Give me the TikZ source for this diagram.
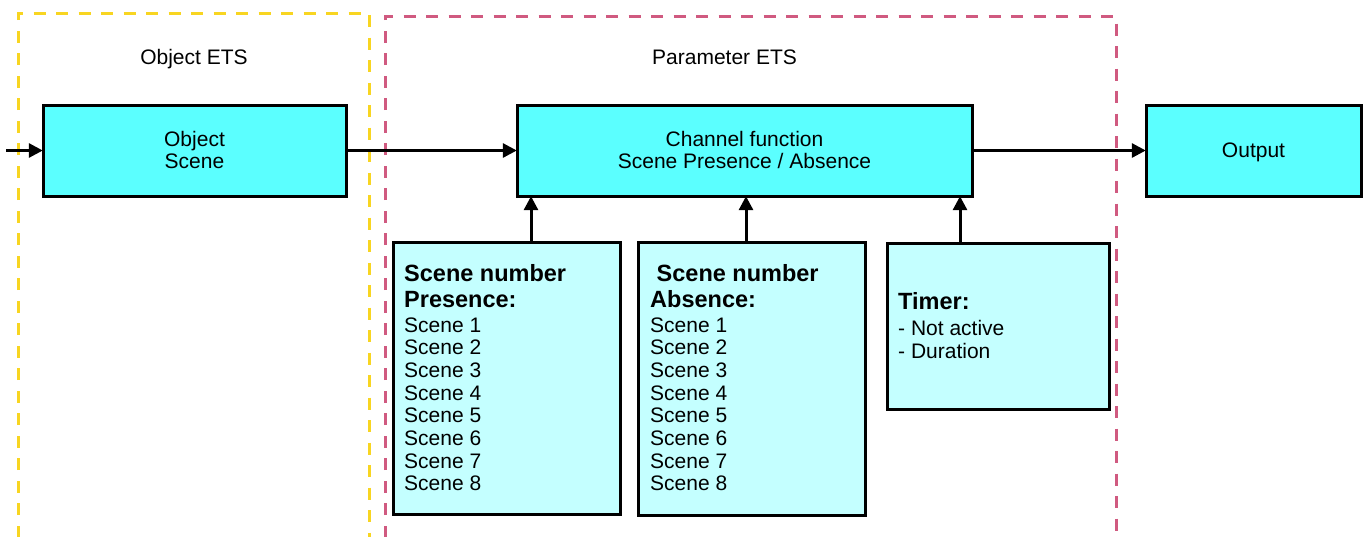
\documentclass[tikz,border=0pt]{standalone}
\usepackage{fontspec}
\setmainfont{Liberation Sans}
\usetikzlibrary{arrows.meta}
\definecolor{cyanA}{HTML}{5BFFFF}
\definecolor{cyanB}{HTML}{C4FFFF}
\definecolor{yel}{HTML}{F8D521}
\definecolor{pnk}{HTML}{D05A80}
\begin{document}
\begin{tikzpicture}[x=1pt,y=-1pt,
  every node/.style={font=\fontsize{21}{22.7}\selectfont, inner sep=0pt},
  bold/.style={font=\fontsize{23.5}{26}\selectfont\bfseries},
  bigbox/.style={draw=black, line width=3pt, fill=cyanA},
  smallbox/.style={draw=black, line width=3pt, fill=cyanB},
  zone/.style={line width=3pt, dash pattern=on 12pt off 10.5pt},
  conn/.style={line width=3pt, -{Triangle[length=14pt,width=14pt]}},
  ln/.style={anchor=base west}]
\useasboundingbox (0,0) rectangle (1364,536);
\begin{scope}
\clip (0,0) rectangle (1364,536);
\draw[zone, draw=yel] (18,560) -- (18,13) -- (369,13) -- (369,560);
\draw[zone, draw=pnk] (385,560) -- (385,16) -- (1116,16) -- (1116,560);
\end{scope}
\node (lobj) [anchor=base] at (194,64) {Object ETS};
\node (lpar) [anchor=base west] at (652,64) {Parameter ETS};
% main boxes
\draw[bigbox] (43,105) rectangle (346,196);
\node (obj) at (194.5,150.5) [minimum width=303pt, minimum height=91pt] {};
\node (obj1) [anchor=base] at (194.5,146) {Object};
\node (obj2) [anchor=base] at (194.5,168) {Scene};
\draw[bigbox] (517,105) rectangle (972,196);
\node (ch) at (744.5,150.5) [minimum width=455pt, minimum height=91pt] {};
\node (ch1) [anchor=base] at (744.5,146) {Channel function};
\node (ch2) [anchor=base] at (744.5,168) {Scene Presence / Absence};
\draw[bigbox] (1146,105) rectangle (1361,196);
\node (out) at (1253.5,150.5) [minimum width=215pt, minimum height=91pt] {};
\node (out1) [anchor=base] at (1253.5,157) {Output};
% parameter boxes
\draw[smallbox] (393,242) rectangle (620,514);
\node (pres) at (506.5,378) [minimum width=227pt, minimum height=272pt] {};
\node (pb1) [ln, bold] at (404,281) {Scene number};
\node (pb2) [ln, bold] at (404,307) {Presence:};
\foreach \i in {1,...,8} \node (pr\i) [ln] at (404,{332+22.7*(\i-1)}) {Scene \i};
\draw[smallbox] (638,242) rectangle (865,515);
\node (abs) at (751.5,378.5) [minimum width=227pt, minimum height=273pt] {};
\node (ab1) [ln, bold] at (656.5,281) {Scene number};
\node (ab2) [ln, bold] at (650,307) {Absence:};
\foreach \i in {1,...,8} \node (as\i) [ln] at (650,{332+22.7*(\i-1)}) {Scene \i};
\draw[smallbox] (887,243) rectangle (1109,409);
\node (tim) at (998,326) [minimum width=222pt, minimum height=166pt] {};
\node (tb1) [ln, bold] at (898,309) {Timer:};
\node (tt1) [ln] at (898,335) {- Not active};
\node (tt2) [ln] at (898,358) {- Duration};
% connectors
\coordinate (in) at (6,150.5);
\draw[conn] (in) -- (obj.west);
\draw[conn] (obj.east) -- (ch.west);
\draw[conn] (ch.east) -- (out.west);
\draw[conn] (pres.north -| 531,0) -- (ch.south -| 531,0);
\draw[conn] (abs.north -| 746,0) -- (ch.south -| 746,0);
\draw[conn] (tim.north -| 960,0) -- (ch.south -| 960,0);
\end{tikzpicture}
\end{document}
